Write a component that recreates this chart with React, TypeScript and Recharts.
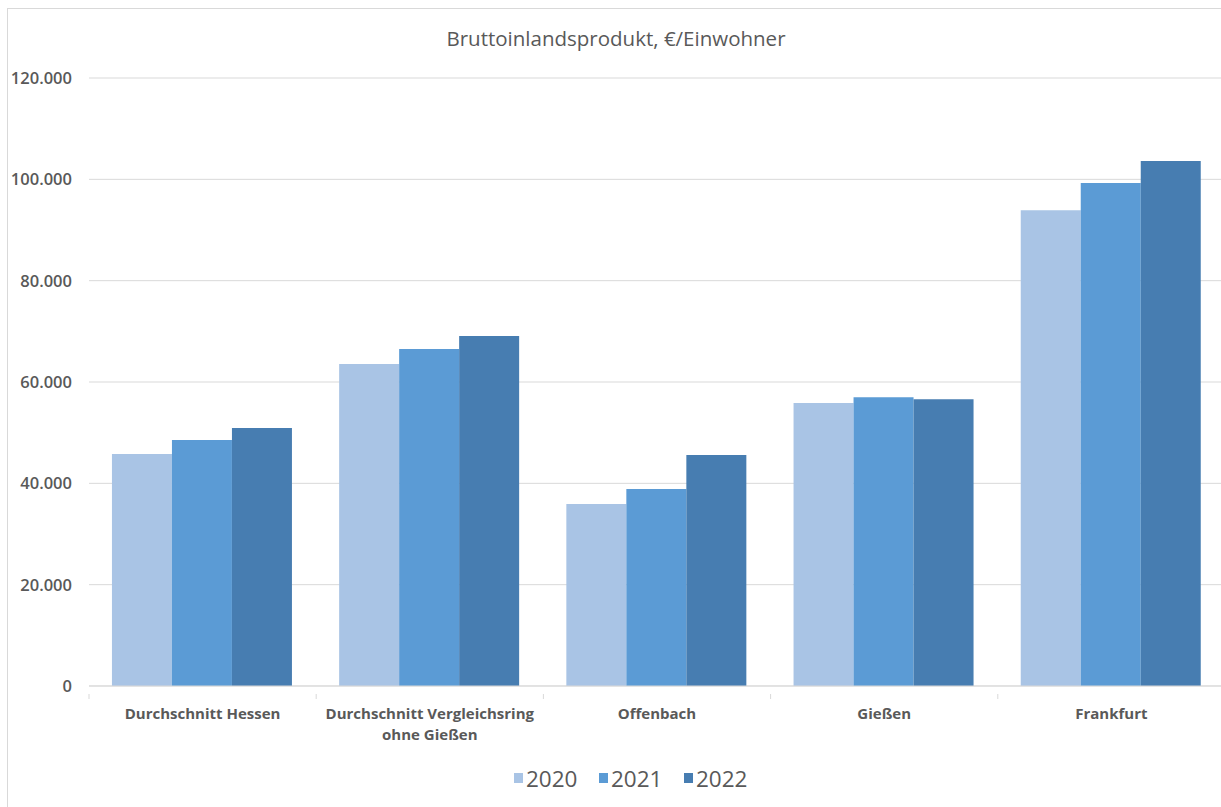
import React from "react";
import { BarChart, Bar, XAxis, YAxis, CartesianGrid, Customized } from "recharts";

// Categories and yearly values (€ per inhabitant)
const categories = [
  "Durchschnitt Hessen",
  "Durchschnitt Vergleichsring\nohne Gießen",
  "Offenbach",
  "Gießen",
  "Frankfurt",
];
const years = ["2020", "2021", "2022"];
const values2020 = [45800, 63550, 35900, 55850, 93900];
const values2021 = [48550, 66500, 38900, 57000, 99300];
const values2022 = [50900, 69100, 45600, 56600, 103600];
const yTicks = [0, 20000, 40000, 60000, 80000, 100000, 120000];
const title = "Bruttoinlandsprodukt, €/Einwohner";

const colors = ["#A9C4E5", "#5B9BD5", "#477DB1"];
const FONT = "'Open Sans', 'Noto Sans', sans-serif";
const TEXT = "#595959";

const data = categories.map((name, i) => ({
  name,
  "2020": values2020[i],
  "2021": values2021[i],
  "2022": values2022[i],
}));

const CHART_W = 1240;
const CHART_H = 807;
const X_AXIS_H = 60;
const MARGIN = { top: 78, right: 15, bottom: 121 - X_AXIS_H, left: 0 };
const Y_AXIS_W = 89;
const BAND = (CHART_W - MARGIN.left - MARGIN.right - Y_AXIS_W) / categories.length;

const formatDe = (v: number) => String(v).replace(/\B(?=(\d{3})+(?!\d))/g, ".");

const CategoryTick = (props: any) => {
  const { x, y, payload, index } = props;
  const lines = String(payload.value).split("\n");
  const left = x - BAND / 2;
  return (
    <g>
      <line x1={left} y1={y} x2={left} y2={y + 5} stroke="#d9d9d9" />
      {index === categories.length - 1 && (
        <line x1={x + BAND / 2} y1={y} x2={x + BAND / 2} y2={y + 5} stroke="#d9d9d9" />
      )}
      <text
        x={x}
        y={y + 25}
        textAnchor="middle"
        fill={TEXT}
        fontFamily={FONT}
        fontSize={15}
        fontWeight={700}
      >
        {lines.map((l, i) => (
          <tspan key={i} x={x} dy={i === 0 ? 0 : 21}>
            {l}
          </tspan>
        ))}
      </text>
    </g>
  );
};

// Frame, title and legend drawn in the chart's own SVG
const Decorations = () => {
  const legendY = 778;
  const itemW = 85;
  const startX = 514;
  return (
    <g>
      <rect x={7.5} y={8.5} width={1240} height={820} fill="none" stroke="#d9d9d9" strokeWidth={1} />
      <text x={616} y={46} textAnchor="middle" fill={TEXT} fontFamily={FONT} fontSize={20.5}>
        {title}
      </text>
      {years.map((yr, i) => (
        <g key={yr}>
          <rect x={startX + i * itemW} y={legendY - 5} width={9} height={10} fill={colors[i]} />
          <text
            x={startX + i * itemW + 12}
            y={legendY}
            dominantBaseline="central"
            fill={TEXT}
            fontFamily={FONT}
            fontSize={22.5}
          >
            {yr}
          </text>
        </g>
      ))}
    </g>
  );
};

export default function App() {
  return (
    <div
      style={{
        position: "absolute",
        left: 0,
        top: 0,
        width: 1221,
        height: 807,
        overflow: "hidden",
        background: "#ffffff",
      }}
    >
      <BarChart
        width={CHART_W}
        height={CHART_H}
        data={data}
        margin={MARGIN}
        barGap={0}
        barCategoryGap="10.1%"
      >
        <Customized component={Decorations} />
        <CartesianGrid vertical={false} stroke="#d9d9d9" />
        <XAxis
          dataKey="name"
          axisLine={{ stroke: "#d9d9d9" }}
          tickLine={false}
          tick={<CategoryTick />}
          interval={0}
          height={X_AXIS_H}
        />
        <YAxis
          width={Y_AXIS_W}
          domain={[0, 120000]}
          ticks={yTicks}
          tickFormatter={formatDe}
          axisLine={false}
          tickLine={false}
          tickSize={0}
          tickMargin={17}
          tick={{ fill: TEXT, fontFamily: FONT, fontSize: 16.5, fontWeight: 600 }}
        />
        {years.map((yr, i) => (
          <Bar key={yr} dataKey={yr} fill={colors[i]} isAnimationActive={false} />
        ))}
      </BarChart>
    </div>
  );
}
